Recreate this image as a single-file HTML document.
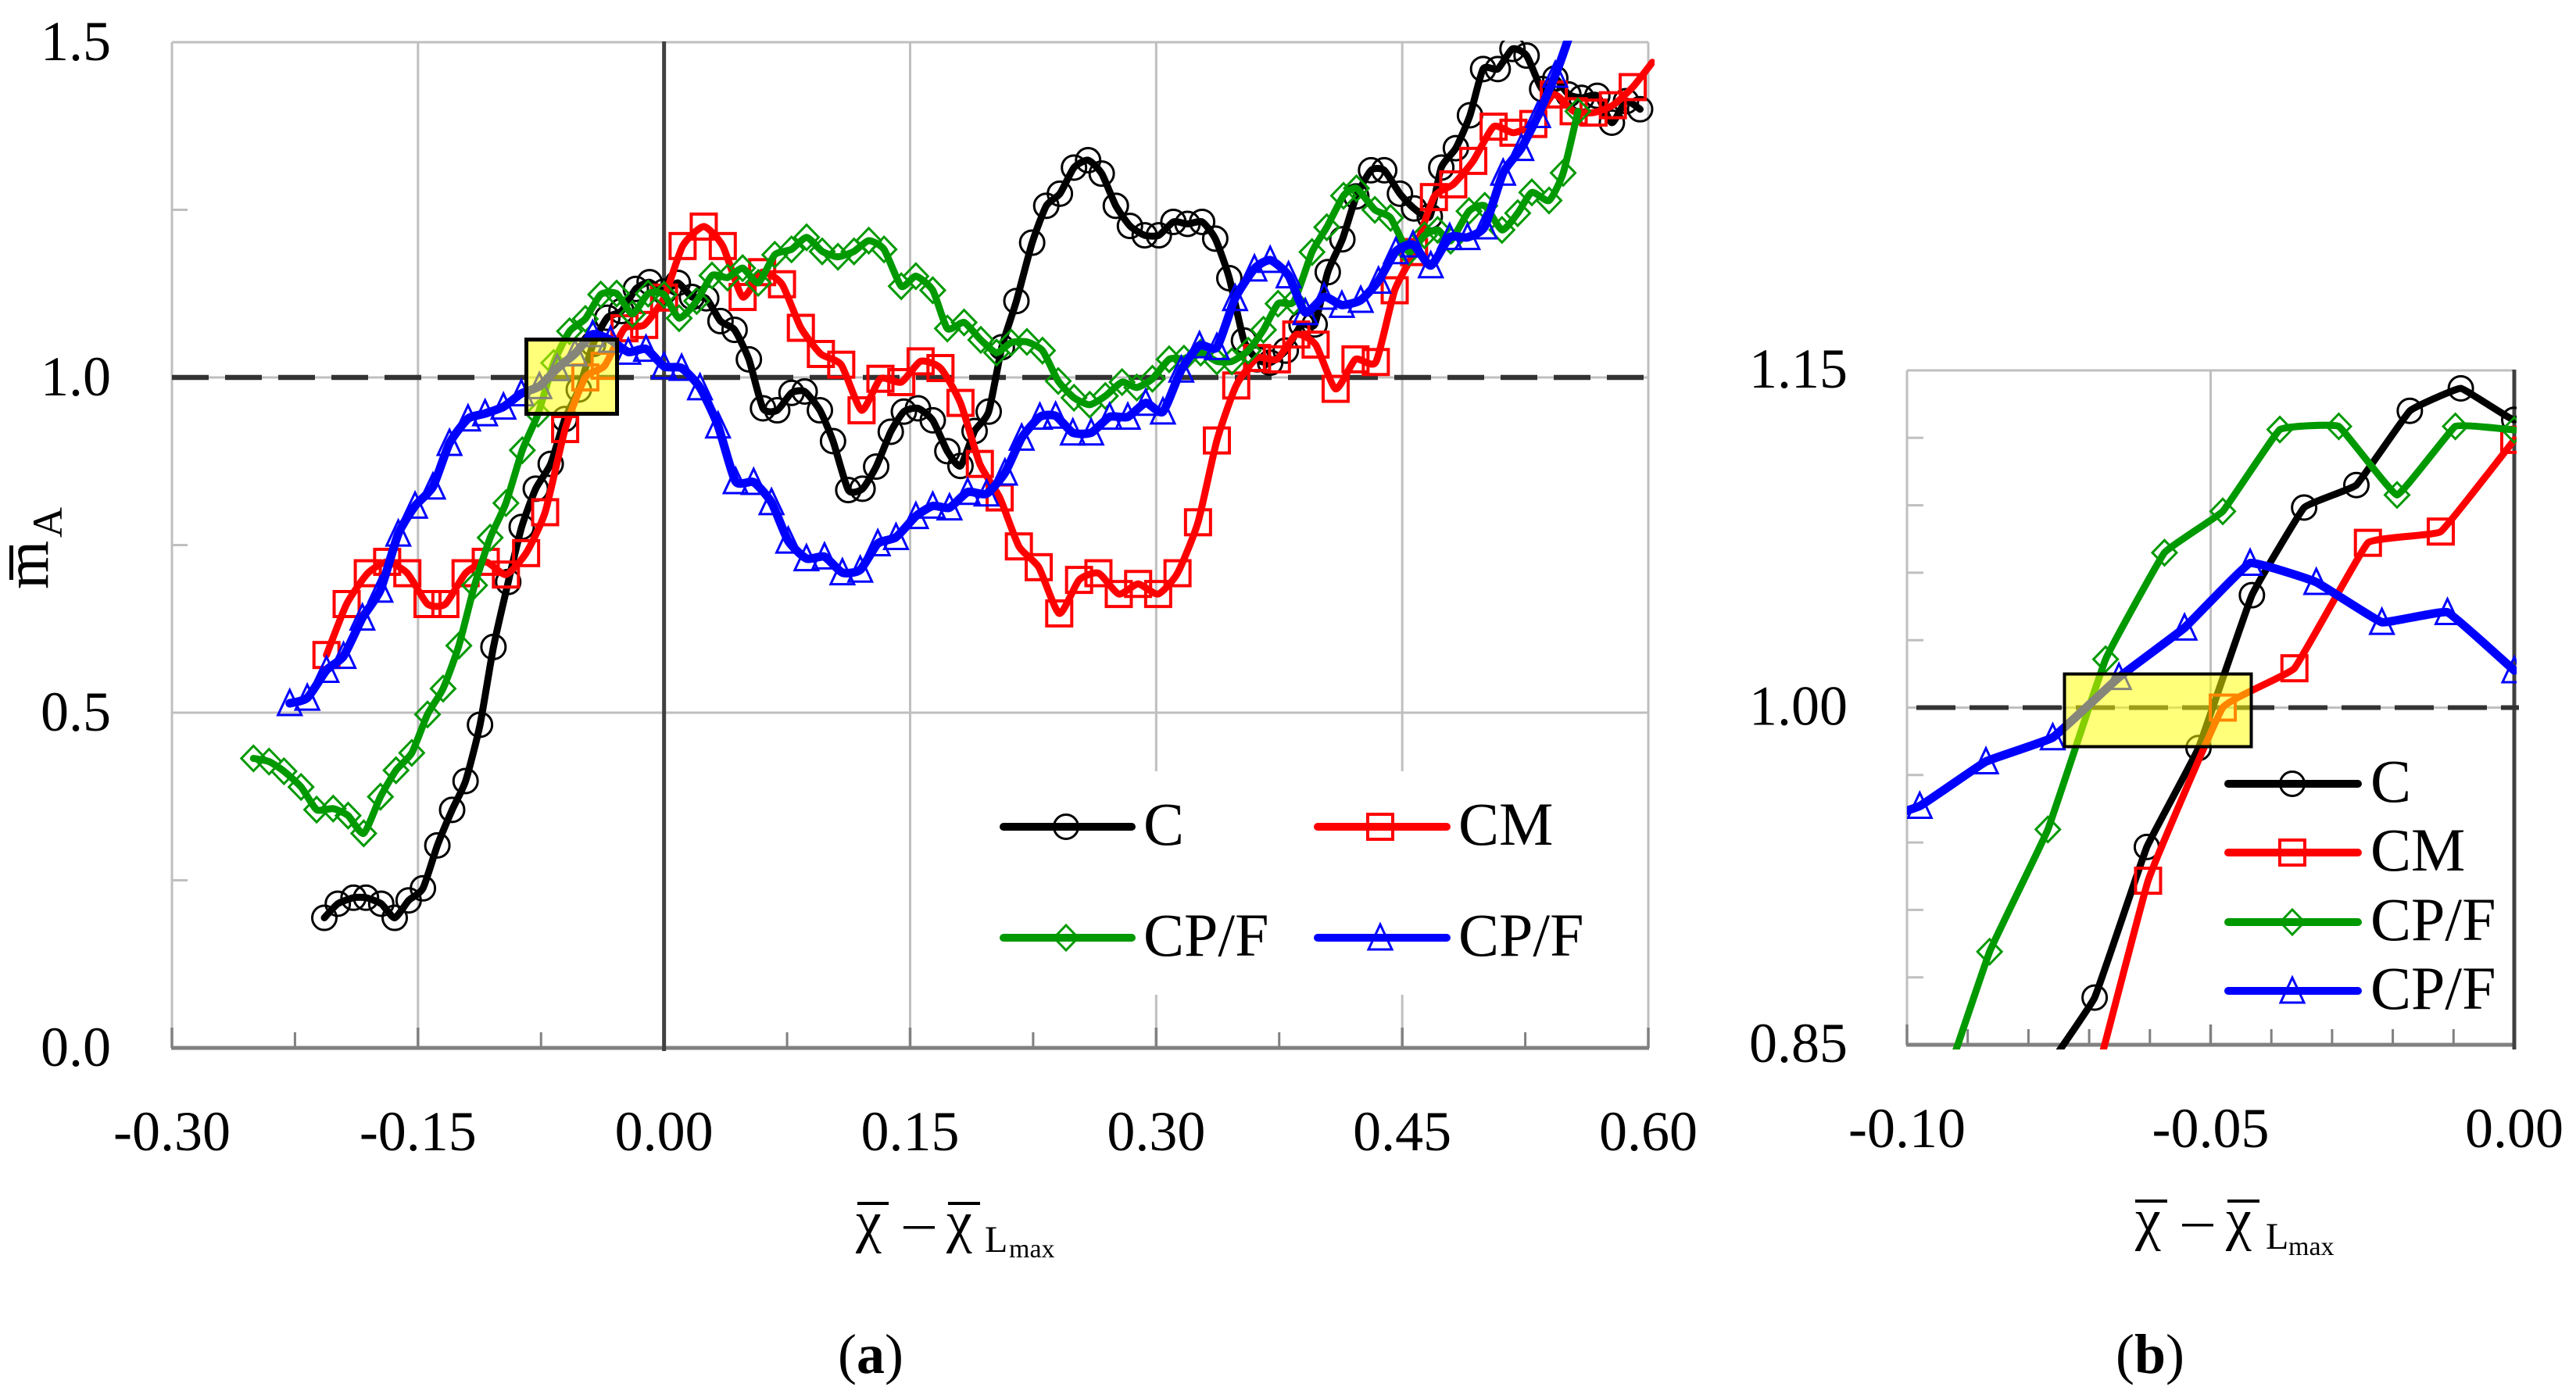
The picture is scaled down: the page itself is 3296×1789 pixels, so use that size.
<!DOCTYPE html>
<html lang="en">
<head>
<meta charset="utf-8">
<title>Mass ratio versus chordwise position</title>
<style>
html,body{margin:0;padding:0;background:#fff;width:3296px;height:1789px;overflow:hidden}
svg{display:block}
text{font-family:"Liberation Serif","DejaVu Serif",serif;fill:#000}
</style>
</head>
<body>
<svg id="figure" xmlns="http://www.w3.org/2000/svg" width="3296" height="1789" viewBox="0 0 3296 1789">
  <defs>
    <clipPath id="clip-a"><rect x="218" y="52" width="1899" height="1293"/></clipPath>
    <clipPath id="clip-b"><rect x="2440" y="472" width="780" height="871"/></clipPath>
  </defs>
  <g id="panel-a"></g>
  <g id="panel-b"></g>

  <g>
    <rect x="12" y="698" width="5" height="44" fill="#000"/>
    <text transform="translate(61,754) rotate(-90)" font-size="80">m</text>
    <text transform="translate(79,688) rotate(-90)" font-size="54">A</text>
  </g>

  <g>
    <rect x="1097" y="1538" width="40" height="4" fill="#000"/>
    <rect x="1213" y="1538" width="41" height="4" fill="#000"/>
    <text x="1095" y="1588" font-size="74">χ</text>
    <rect x="1156" y="1569" width="40" height="3.5" fill="#000"/>
    <text x="1211" y="1588" font-size="74">χ</text>
    <text x="1260" y="1602" font-size="48">L</text>
    <text x="1291" y="1609" font-size="34">max</text>
  </g>
  <g>
    <rect x="2732" y="1535" width="41" height="4" fill="#000"/>
    <rect x="2850" y="1535" width="41" height="4" fill="#000"/>
    <text x="2732" y="1585" font-size="74">χ</text>
    <rect x="2792" y="1566" width="40" height="3.5" fill="#000"/>
    <text x="2848" y="1585" font-size="74">χ</text>
    <text x="2899" y="1598" font-size="48">L</text>
    <text x="2928" y="1606" font-size="34">max</text>
  </g>

  <text x="1072" y="1757" font-size="72">(<tspan font-weight="bold">a</tspan>)</text>
  <text x="2707" y="1757" font-size="72">(<tspan font-weight="bold">b</tspan>)</text>
</svg>
<script>
const cX=[-.2071,-.1989,-.1893,-.1817,-.1724,-.1642,-.1557,-.147,-.1382,-.1292,-.121,-.1122,-.104,-.095,-.0868,-.0782,-.0691,-.0605,-.052,-.0432,-.0346,-.026,-.0172,-.0088,0,.0084,.017,.0257,.0344,.043,.0517,.0603,.069,.0777,.0857,.095,.103,.1123,.121,.1293,.1382,.1462,.1548,.1638,.1727,.1807,.1893,.1979,.2059,.2148,.2244,.233,.2413,.2499,.2585,.2668,.2754,.284,.293,.3016,.3105,.3191,.328,.336,.3446,.3535,.3615,.3695,.379,.3886,.3966,.4046,.4135,.422,.431,.439,.4486,.4572,.4668,.4738,.4827,.4913,.4993,.5082,.5172,.5258,.5353,.5433,.5513,.5593,.5689,.5778,.5864,.595];
const cY=[.194,.215,.224,.224,.215,.194,.22,.238,.302,.355,.398,.482,.598,.695,.777,.834,.871,.938,.982,1.05,1.089,1.099,1.132,1.142,1.128,1.141,1.12,1.118,1.084,1.071,1.027,.954,.951,.977,.979,.951,.905,.832,.834,.867,.919,.949,.954,.936,.89,.868,.92,.949,1.045,1.114,1.201,1.256,1.274,1.313,1.324,1.304,1.256,1.226,1.212,1.212,1.232,1.229,1.232,1.207,1.148,1.055,1.027,1.022,1.04,1.079,1.079,1.157,1.206,1.27,1.309,1.309,1.274,1.252,1.24,1.313,1.342,1.391,1.46,1.46,1.49,1.48,1.43,1.446,1.422,1.417,1.42,1.38,1.412,1.4];
const cmX=[-.2058,-.1935,-.1806,-.1688,-.1565,-.1442,-.1333,-.121,-.1087,-.0964,-.0841,-.0725,-.0603,-.048,-.0362,-.0241,-.0121,0,.0113,.0242,.0358,.0479,.0598,.0719,.0834,.0956,.108,.1204,.1319,.1446,.1564,.1685,.1807,.1925,.2046,.2163,.2284,.2409,.253,.2648,.2772,.289,.3012,.313,.3255,.337,.3488,.3615,.3736,.3854,.3972,.4094,.4215,.4339,.4454,.4572,.4693,.4811,.4933,.5057,.5178,.5299,.5424,.5545,.5666,.5784,.5905,.6025];
const cmY=[.586,.662,.708,.725,.708,.662,.662,.708,.725,.706,.738,.799,.923,1,1.0175,1.0733,1.0783,1.1191,1.196,1.225,1.196,1.12,1.157,1.139,1.074,1.035,1.019,.951,.998,.993,1.024,1.014,.962,.871,.821,.748,.717,.648,.698,.708,.677,.692,.677,.708,.784,.906,.988,1.029,1.027,1.064,1.049,.983,1.027,1.023,1.13,1.187,1.269,1.288,1.323,1.374,1.365,1.378,1.422,1.397,1.395,1.406,1.433,1.47];
const cpfGreenX=[-.2503,-.2408,-.2317,-.2213,-.2118,-.2017,-.1926,-.1831,-.1729,-.1634,-.1538,-.1442,-.1347,-.1251,-.1155,-.106,-.0964,-.0864,-.0768,-.0673,-.0576,-.048,-.0386,-.0289,-.0193,-.0097,0,.0092,.0199,.0292,.0387,.0479,.0574,.0675,.0777,.0869,.0964,.106,.1158,.1248,.1341,.1446,.1535,.1638,.1727,.1829,.1931,.2027,.2116,.2212,.2307,.2403,.2499,.2595,.269,.2792,.2882,.2977,.3079,.3169,.3271,.337,.3462,.3561,.3654,.3743,.3839,.395,.404,.4142,.4221,.4333,.4429,.454,.4636,.4716,.4795,.4907,.5003,.5108,.5204,.529,.5395,.5481,.5571];
const cpfGreenY=[.4318,.427,.4126,.3892,.3554,.3569,.3465,.32,.3746,.4141,.44,.4974,.5359,.6,.69,.761,.8125,.8914,.9458,1.0215,1.0689,1.0873,1.1237,1.1251,1.0946,1.1251,1.1235,1.0883,1.114,1.152,1.149,1.163,1.141,1.183,1.191,1.209,1.188,1.18,1.188,1.204,1.191,1.136,1.151,1.13,1.073,1.082,1.056,1.037,1.052,1.053,1.04,.9946,.9697,.9593,.9723,.993,.985,.998,1.027,1.028,1.037,1.024,1.024,1.04,1.071,1.11,1.113,1.187,1.224,1.271,1.282,1.25,1.238,1.187,1.212,1.22,1.204,1.248,1.256,1.22,1.245,1.276,1.264,1.305,1.397];
const cpfBlueX=[-.2282,-.2175,-.2058,-.1954,-.1839,-.1729,-.162,-.1518,-.1409,-.1308,-.1195,-.1091,-.0979,-.087,-.076,-.0651,-.0543,-.0435,-.0326,-.0218,-.011,0,.0107,.0219,.0329,.0436,.0546,.0655,.0757,.0868,.0978,.1087,.1196,.1303,.1414,.1535,.1638,.174,.1851,.1966,.2078,.218,.2291,.2387,.2492,.2604,.2716,.2827,.2936,.3041,.3153,.3264,.337,.3481,.3599,.3695,.3807,.3909,.4024,.4132,.4247,.4355,.4461,.4566,.4674,.4789,.4898,.5003,.5115,.5226,.5328,.5433,.5507,.5545];
const cpfBlueY=[.514,.522,.5635,.5843,.6415,.6831,.7668,.8084,.837,.902,.9385,.9462,.9562,.976,.9867,1.0135,1.0355,1.0643,1.0558,1.038,1.0424,1.0165,1.014,.985,.928,.845,.8438,.8136,.7562,.73,.7326,.709,.713,.7523,.7616,.793,.8084,.8058,.829,.8266,.8578,.9098,.9411,.9426,.9176,.9176,.9411,.9411,.9619,.9489,1.0113,1.0477,1.045,1.118,1.1622,1.175,1.152,1.097,1.12,1.108,1.1154,1.144,1.188,1.198,1.167,1.209,1.209,1.225,1.305,1.342,1.391,1.451,1.501,1.53];

const seriesNames=['C','CM','CP/F','CP/F'];
const seriesKeys=['c','cm','cpf-green','cpf-blue'];
const seriesColors=['#000000','#ff0000','#009900','#0000ff'];
const seriesMarkers=['circle','square','diamond','triangle'];
const seriesWidths=[9,9,9,11];

const xTickLabelsA=['-0.30','-0.15','0.00','0.15','0.30','0.45','0.60'];
const xTickValuesA=[-.3,-.15,0,.15,.3,.45,.6];
const xMinorValuesA=[-.225,-.075,.075,.225,.375,.525];
const yTickLabelsA=['0.0','0.5','1.0','1.5'];
const yTickValuesA=[0,.5,1,1.5];
const yMinorValuesA=[.25,.75,1.25];

const xTickLabelsB=['-0.10','-0.05','0.00'];
const xTickValuesB=[-.1,-.05,0];
const xMinorValuesB=[-.09,-.08,-.07,-.06,-.04,-.03,-.02,-.01];
const yTickLabelsB=['0.85','1.00','1.15'];
const yTickValuesB=[.85,1,1.15];
const yMinorValuesB=[.88,.91,.94,.97,1.03,1.06,1.09,1.12];

const SVGNS='http://www.w3.org/2000/svg';
function make(parent,tag,attrs,name){
  const el=document.createElementNS(SVGNS,tag);
  for(const k in attrs){el.setAttribute(k,attrs[k]);}
  
  
  parent.appendChild(el);
  return el;
}
function line(p,x1,y1,x2,y2,color,w,name,extra){
  return make(p,'line',Object.assign({x1:x1,y1:y1,x2:x2,y2:y2,stroke:color,'stroke-width':w},extra||{}),name);
}
function label(p,x,y,str,anchor,name,size){
  const t=make(p,'text',{x:x,y:y,'text-anchor':anchor,'font-size':size||72},name);
  t.textContent=str;
  return t;
}
function marker(p,kind,x,y,color,name){
  const common={fill:'none',stroke:color};
  if(kind==='circle'){
    return make(p,'circle',Object.assign({cx:x,cy:y,r:15.5,'stroke-width':3},common),name);
  }
  if(kind==='square'){
    return make(p,'rect',Object.assign({x:x-16,y:y-16,width:32,height:32,'stroke-width':4},common),name);
  }
  if(kind==='diamond'){
    return make(p,'polygon',Object.assign({points:[x,y-16,x+15.5,y,x,y+16,x-15.5,y].join(' '),'stroke-width':3},common),name);
  }
  return make(p,'polygon',Object.assign({points:[x,y-17,x+15,y+15,x-15,y+15].join(' '),'stroke-width':3},common),name);
}
function smoothPath(pts,k){
  let d='M'+pts[0][0].toFixed(1)+' '+pts[0][1].toFixed(1);
  for(let i=0;i<pts.length-1;i++){
    const p0=pts[Math.max(i-1,0)],p1=pts[i],p2=pts[i+1],p3=pts[Math.min(i+2,pts.length-1)];
    const c1x=p1[0]+(p2[0]-p0[0])*k,c1y=p1[1]+(p2[1]-p0[1])*k;
    const c2x=p2[0]-(p3[0]-p1[0])*k,c2y=p2[1]-(p3[1]-p1[1])*k;
    d+=' C'+c1x.toFixed(1)+' '+c1y.toFixed(1)+' '+c2x.toFixed(1)+' '+c2y.toFixed(1)+' '+p2[0].toFixed(1)+' '+p2[1].toFixed(1);
  }
  return d;
}
function drawSeries(group,xs,ys,idx,X,Y,dom,clipId,k,prefix){
  const color=seriesColors[idx];
  const g=make(group,'g',{},prefix+'-series-'+seriesKeys[idx]);
  const clip=make(g,'g',{'clip-path':'url(#'+clipId+')'},prefix+'-series-clip-'+seriesKeys[idx]);
  const pts=[];
  xs.forEach((v,i)=>{
    if(v>=dom.keepX0&&v<=dom.keepX1&&ys[i]>=dom.keepY0){
      const px=X(v),py=Y(ys[i]);
      pts.push([px,py]);
      if(v>=dom.x0-1e-9&&v<=dom.x1+1e-9&&ys[i]>=dom.y0&&ys[i]<=dom.y1){
        marker(clip,seriesMarkers[idx],px,py,color,prefix+'-point-'+seriesKeys[idx]);
      }
    }
  });
  make(clip,'path',{d:smoothPath(pts,k),fill:'none',stroke:color,'stroke-width':seriesWidths[idx],'stroke-linecap':'round','stroke-linejoin':'round'},prefix+'-line-'+seriesKeys[idx]);
}
function legendEntry(p,idx,x1,x2,xm,y,tx,ty,prefix){
  const g=make(p,'g',{},prefix+'-legend-entry-'+seriesKeys[idx]);
  marker(g,seriesMarkers[idx],xm,y,seriesColors[idx],prefix+'-legend-marker-'+seriesKeys[idx]);
  line(g,x1,y,x2,y,seriesColors[idx],10,prefix+'-legend-line-'+seriesKeys[idx],{'stroke-linecap':'round'});
  label(g,tx,ty,seriesNames[idx],'start',prefix+'-legend-label-'+seriesKeys[idx],78);
}
const GRID='#bfbfbf',AXIS='#808080',DARK='#404040',DASH='#333333';
const allX=[cX,cmX,cpfGreenX,cpfBlueX],allY=[cY,cmY,cpfGreenY,cpfBlueY];

/* Panel A */
(function(){
  const g=document.getElementById('panel-a');
  const L=220,R=2109,T=54,B=1341;
  const X=v=>L+(v+.3)/.9*(R-L);
  const Y=v=>B-v/1.5*(B-T);
  xTickValuesA.forEach(v=>{
    if(v!==0){line(g,X(v),T,X(v),B,GRID,3,'vertical-gridline-a');}
  });
  yTickValuesA.forEach(v=>{
    if(v>0){line(g,L,Y(v),R,Y(v),GRID,3,'horizontal-gridline-a');}
  });
  yMinorValuesA.forEach(v=>{line(g,L,Y(v),L+20,Y(v),GRID,3,'y-minor-tick-a');});
  xTickValuesA.forEach(v=>{
    if(v!==0){line(g,X(v),B-26,X(v),B,AXIS,3.5,'x-major-tick-a');}
  });
  xMinorValuesA.forEach(v=>{line(g,X(v),B-20,X(v),B,AXIS,3,'x-minor-tick-a');});
  make(g,'rect',{x:1270,y:987,width:790,height:286,fill:'#fff'},'legend-background-a');
  line(g,L-1,B,R+1,B,AXIS,5,'x-axis-a');
  line(g,X(0),T-1,X(0),B+4,DARK,5,'zero-line-a');
  line(g,L,Y(1),R,Y(1),DASH,6.5,'reference-line-a',{'stroke-dasharray':'47 21'});
  xTickValuesA.forEach((v,i)=>{label(g,X(v),1472,xTickLabelsA[i],'middle','x-tick-label-a');});
  yTickValuesA.forEach((v,i)=>{label(g,142,Y(v)+23,yTickLabelsA[i],'end','y-tick-label-a');});
  const dom={x0:-.3,x1:.6,y0:0,y1:1.5,keepX0:-.3,keepX1:.61,keepY0:0};
  allX.forEach((xs,i)=>{drawSeries(g,xs,allY[i],i,X,Y,dom,'clip-a',.1,'a');});
  legendEntry(g,0,1284,1448,1364,1058,1463,1081,'a');
  legendEntry(g,1,1686,1851,1766,1058,1866,1081,'a');
  legendEntry(g,2,1284,1448,1364,1200,1463,1223,'a');
  legendEntry(g,3,1686,1851,1766,1200,1866,1223,'a');
  make(g,'rect',{x:673.5,y:434.5,width:116,height:95,fill:'#ffff00','fill-opacity':.52,stroke:'#000','stroke-width':5},'highlight-box-a');
})();

/* Panel B */
(function(){
  const g=document.getElementById('panel-b');
  const L=2440,R=3217,T=474,B=1337;
  const X=v=>L+(v+.1)/.1*(R-L);
  const Y=v=>B-(v-.85)/.3*(B-T);
  line(g,L,T,R,T,GRID,3,'top-gridline-b');
  line(g,L,T,L,B,GRID,3,'left-axis-b');
  line(g,X(-.05),T,X(-.05),B,GRID,3,'vertical-gridline-b');
  line(g,L,Y(1),R,Y(1),GRID,3,'horizontal-gridline-b');
  yMinorValuesB.forEach(v=>{line(g,L,Y(v),L+21,Y(v),GRID,3,'y-minor-tick-b');});
  make(g,'rect',{x:2822,y:955,width:390,height:356,fill:'#fff'},'legend-background-b');
  xTickValuesB.forEach(v=>{
    if(v!==0){line(g,X(v),B-26,X(v),B,AXIS,3.5,'x-major-tick-b');}
  });
  xMinorValuesB.forEach(v=>{line(g,X(v),B-20,X(v),B,AXIS,3,'x-minor-tick-b');});
  line(g,L-1,B,R+1,B,AXIS,5,'x-axis-b');
  line(g,R,T-1,R,B+6,DARK,5,'zero-line-b');
  line(g,2452,Y(1),3223,Y(1),DASH,6,'reference-line-b',{'stroke-dasharray':'50 18'});
  xTickValuesB.forEach((v,i)=>{label(g,X(v),1468,xTickLabelsB[i],'middle','x-tick-label-b');});
  yTickValuesB.forEach((v,i)=>{label(g,2364,Y(v)+22,yTickLabelsB[i],'end','y-tick-label-b');});
  const dom={x0:-.1,x1:0,y0:.85,y1:1.15,keepX0:-.112,keepX1:.0085,keepY0:.68};
  allX.forEach((xs,i)=>{drawSeries(g,xs,allY[i],i,X,Y,dom,'clip-b',.04,'b');});
  legendEntry(g,0,2851,3017,2933,1003,3033,1026,'b');
  legendEntry(g,1,2851,3017,2933,1091,3033,1114,'b');
  legendEntry(g,2,2851,3017,2933,1180,3033,1203,'b');
  legendEntry(g,3,2851,3017,2933,1268,3033,1291,'b');
  make(g,'rect',{x:2641.5,y:862.5,width:239,height:93,fill:'#ffff00','fill-opacity':.52,stroke:'#000','stroke-width':4},'highlight-box-b');
})();
</script>
</body>
</html>
